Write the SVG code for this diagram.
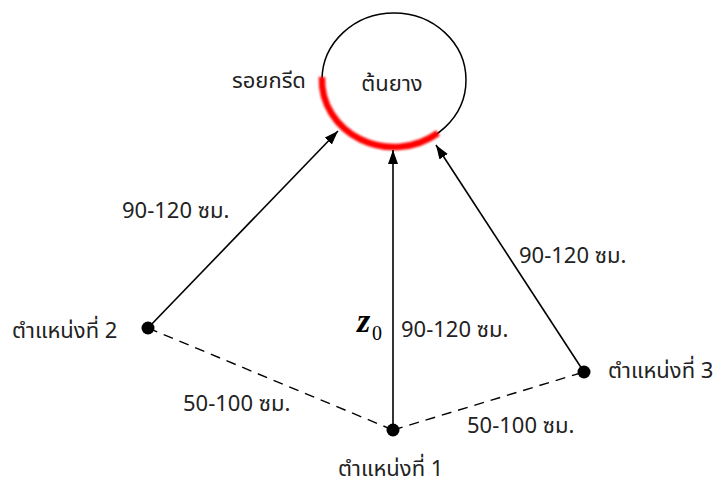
<svg xmlns="http://www.w3.org/2000/svg" width="722" height="485" viewBox="0 0 722 485">
<style>
.t{font-family:"Noto Sans Thai","Noto Sans","Tahoma","DejaVu Sans",sans-serif;font-size:22px;fill:#222}
.ln{stroke:#000;stroke-width:1.6;fill:none}
.ds{stroke:#000;stroke-width:1.4;fill:none;stroke-dasharray:10 7}
</style>
<defs>
<marker id="ah" viewBox="0 0 14 10" refX="14" refY="5" markerWidth="14" markerHeight="10" markerUnits="userSpaceOnUse" orient="auto">
<path d="M0 0 L14 5 L0 10 Z" fill="#000"/>
</marker>
<filter id="bl" x="-10%" y="-10%" width="120%" height="120%"><feGaussianBlur stdDeviation="0.8"/></filter>
</defs>
<g id="tree">
<ellipse cx="394" cy="80" rx="72" ry="67" fill="#fff" stroke="#000" stroke-width="1.5"/>
<path d="M322 77 A72 67 0 0 0 438 133" fill="none" stroke="#f00" stroke-width="6.5" filter="url(#bl)"/>
<text class="t" x="392" y="91" text-anchor="middle">ต้นยาง</text>
</g>
<g id="scar-label"><text class="t" x="232" y="88">รอยกรีด</text></g>
<g id="connectors">
<line class="ln" x1="148" y1="328" x2="338" y2="131" marker-end="url(#ah)"/>
<line class="ln" x1="393" y1="430" x2="393" y2="150" marker-end="url(#ah)"/>
<line class="ln" x1="584" y1="372" x2="436" y2="145" marker-end="url(#ah)"/>
<line class="ds" x1="148" y1="328" x2="393" y2="430"/>
<line class="ds" x1="393" y1="430" x2="584" y2="372"/>
</g>
<g id="p2">
<circle cx="148" cy="328" r="6.5" fill="#000"/>
<text class="t" x="12" y="338">ตำแหน่งที่ 2</text>
</g>
<g id="p1">
<circle cx="393" cy="430" r="6.5" fill="#000"/>
<text class="t" x="338" y="476">ตำแหน่งที่ 1</text>
</g>
<g id="p3">
<circle cx="584" cy="372" r="6.5" fill="#000"/>
<text class="t" x="608" y="378">ตำแหน่งที่ 3</text>
</g>
<g id="labels">
<text class="t" x="122" y="218">90-120 ซม.</text>
<text class="t" x="401" y="337">90-120 ซม.</text>
<text class="t" x="519" y="263">90-120 ซม.</text>
<text class="t" x="183" y="411">50-100 ซม.</text>
<text class="t" x="467" y="433">50-100 ซม.</text>
<text x="357" y="332" font-family="Liberation Serif,serif" font-style="italic" font-weight="bold" font-size="34">z</text>
<text x="372" y="340" font-family="Liberation Serif,serif" font-size="20">0</text>
</g>
</svg>
